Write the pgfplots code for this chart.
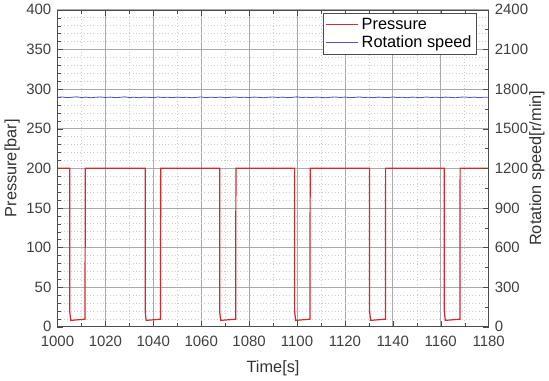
\documentclass[border=0pt]{standalone}
\usepackage{fontspec}
\setmainfont{Liberation Sans}
\usepackage{pgfplots}
\pgfplotsset{compat=1.18}
\definecolor{pred}{RGB}{215,40,45}
\definecolor{sblue}{RGB}{80,80,205}
\definecolor{gridc}{RGB}{170,170,170}
\begin{document}
\begin{tikzpicture}
\pgfplotsset{
  every axis/.append style={
    scale only axis, width=317pt, height=233pt,
    xmin=1000, xmax=1180,
    /pgf/number format/assume math mode=true,
    tick label style={font=\fontsize{11}{13}\selectfont, text=black!75},
    label style={font=\fontsize{12}{14}\selectfont, text=black!80},
    tick align=inside,
    axis line style={black!70},
    major tick style={black!70},
    minor tick style={black!70},
    /pgf/number format/1000 sep={},
  }
}
\begin{axis}[
  axis y line*=left, axis x line*=box,
  ymin=0, ymax=400,
  xtick={1000,1020,...,1180},
  minor x tick num=1,
  ytick={0,50,...,400},
  minor y tick num=4,
  grid=both,
  major grid style={gridc, line width=0.5pt},
  minor grid style={gridc!60, dotted, line width=0.4pt},
  xticklabel style={yshift=-3pt},
  yticklabel style={xshift=-1pt},
  xlabel={Time[s]}, ylabel={Pressure[bar]},
  xlabel style={yshift=-4pt},
  ylabel style={yshift=-2pt},
]
\addplot[pred, line width=0.9pt] coordinates {
(1000,200) (1005.1,200) (1005.1,20) (1005.5,8) (1011.5,9.5) (1011.5,25) (1011.6,200)
(1036.6,200) (1036.6,20) (1037.0,8) (1043.0,9.5) (1043.0,27) (1043.1,200)
(1067.7,200) (1067.7,20) (1068.1,8) (1074.4,9.5) (1074.4,25) (1074.5,200)
(1099.0,200) (1099.0,20) (1099.4,8) (1105.4,9.5) (1105.4,25) (1105.5,200)
(1130.3,200) (1130.3,20) (1130.7,8) (1136.9,9.5) (1136.9,25) (1137.0,200)
(1161.5,200) (1161.5,20) (1161.9,8) (1168.0,9.5) (1168.0,25) (1168.1,200)
(1180,200)
};
\end{axis}
\begin{axis}[
  axis y line*=right, axis x line=none,
  ymin=0, ymax=2400,
  ytick={0,300,...,2400},
  minor y tick num=1,
  yticklabel style={xshift=1pt},
  ylabel={Rotation speed[r/min]},
  ylabel style={yshift=6pt},
  legend style={at={(0.972,0.99)}, anchor=north east, draw=black!70,
    font=\fontsize{12}{14}\selectfont, cells={anchor=west},
    inner sep=1.5pt, row sep=-1pt},
  legend cell align=left,
  legend image post style={xscale=1.4},
]
\addlegendimage{pred, line width=0.9pt}
\addlegendentry{Pressure}
\addplot[sblue, line width=0.6pt] coordinates {
(1000,1737) (1002,1740) (1004,1735) (1006,1738) (1008,1741) (1010,1736) (1012,1739)
(1014,1734) (1016,1738) (1018,1740) (1020,1736) (1022,1739) (1024,1735) (1026,1737)
(1028,1741) (1030,1736) (1032,1738) (1034,1734) (1036,1739) (1038,1737) (1040,1735)
(1042,1740) (1044,1736) (1046,1738) (1048,1735) (1050,1739) (1052,1736) (1054,1738)
(1056,1734) (1058,1737) (1060,1740) (1062,1735) (1064,1738) (1066,1736) (1068,1739)
(1070,1735) (1072,1737) (1074,1740) (1076,1736) (1078,1738) (1080,1735) (1082,1739)
(1084,1737) (1086,1734) (1088,1738) (1090,1740) (1092,1736) (1094,1739) (1096,1735)
(1098,1737) (1100,1741) (1102,1736) (1104,1738) (1106,1735) (1108,1739) (1110,1737)
(1112,1734) (1114,1738) (1116,1740) (1118,1736) (1120,1739) (1122,1735) (1124,1737)
(1126,1740) (1128,1736) (1130,1738) (1132,1735) (1134,1739) (1136,1737) (1138,1735)
(1140,1740) (1142,1736) (1144,1738) (1146,1734) (1148,1739) (1150,1737) (1152,1735)
(1154,1740) (1156,1736) (1158,1738) (1160,1735) (1162,1739) (1164,1737) (1166,1734)
(1168,1738) (1170,1740) (1172,1736) (1174,1739) (1176,1735) (1178,1738) (1180,1737)
};
\addlegendentry{Rotation speed}
\end{axis}
\end{tikzpicture}
\end{document}
